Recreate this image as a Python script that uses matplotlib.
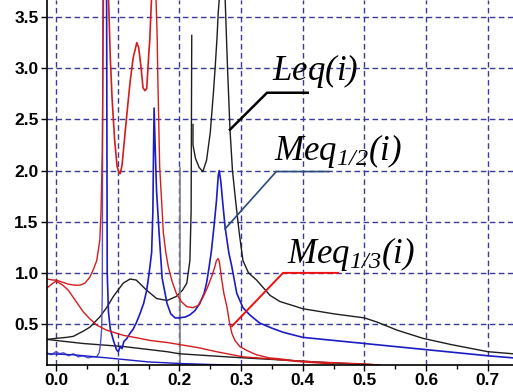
import matplotlib
matplotlib.use("Agg")
import matplotlib.pyplot as plt
from matplotlib.ticker import MultipleLocator

plt.rcParams['mathtext.fontset'] = 'custom'
plt.rcParams['mathtext.it'] = 'Liberation Serif:italic'
plt.rcParams['mathtext.rm'] = 'Liberation Serif:italic'

# ---- Leq(i), black ----
leq_a_x = [-0.015, 0.0, 0.017, 0.028, 0.044, 0.055, 0.071, 0.082, 0.093, 0.109, 0.12, 0.13,
           0.147, 0.163, 0.18, 0.195, 0.205, 0.212, 0.217, 0.219, 0.220]
leq_a_y = [0.35, 0.36, 0.37, 0.38, 0.43, 0.47, 0.57, 0.66, 0.77, 0.90, 0.94, 0.93,
           0.83, 0.75, 0.73, 0.77, 0.83, 0.90, 1.12, 1.6, 3.32]
leq_b_x = [0.222, 0.222, 0.226, 0.232, 0.238, 0.244, 0.250, 0.255, 0.258, 0.261, 0.263, 0.265]
leq_b_y = [2.45, 2.25, 2.12, 2.03, 1.99, 2.1, 2.37, 2.75, 3.01, 3.3, 3.55, 3.7]
leq_c_x = [0.274, 0.278, 0.282, 0.286, 0.291, 0.297, 0.303, 0.312, 0.325, 0.347, 0.363, 0.40,
           0.45, 0.50, 0.52, 0.553, 0.595, 0.64, 0.70, 0.74]
leq_c_y = [3.7, 3.0, 2.4, 2.0, 1.71, 1.39, 1.12, 1.0, 0.93, 0.78, 0.72, 0.65,
           0.60, 0.56, 0.52, 0.44, 0.36, 0.30, 0.23, 0.21]
leq_jump_x = [0.201, 0.201]
leq_jump_y = [0.1, 2.02]
leq_s_x = [-0.015, 0.044, 0.11, 0.152, 0.18, 0.2, 0.25, 0.303, 0.363, 0.45, 0.525]
leq_s_y = [0.35, 0.31, 0.28, 0.25, 0.23, 0.21, 0.19, 0.17, 0.15, 0.12, 0.10]

# ---- Meq1/2(i), blue ----
meq2_a_x = [-0.015, -0.008, 0.0, 0.006, 0.012, 0.02, 0.028, 0.036, 0.044, 0.052, 0.06,
            0.066, 0.07, 0.072, 0.074, 0.075, 0.076]
meq2_a_y = [0.22, 0.20, 0.23, 0.21, 0.22, 0.19, 0.21, 0.18, 0.19, 0.17, 0.18,
            0.18, 0.22, 0.30, 0.45, 0.8, 3.7]
meq2_b_x = [0.082, 0.083, 0.085, 0.088, 0.093, 0.098, 0.101, 0.104, 0.107, 0.11, 0.115,
            0.12, 0.125, 0.13, 0.136, 0.142, 0.147, 0.151, 0.155, 0.157, 0.158, 0.159,
            0.161, 0.163, 0.167, 0.172, 0.18, 0.186, 0.193, 0.2, 0.21, 0.217, 0.225,
            0.233, 0.24, 0.244, 0.248, 0.252, 0.256, 0.26, 0.263, 0.2645, 0.267, 0.27,
            0.274, 0.28, 0.285, 0.293, 0.303, 0.314, 0.33, 0.35, 0.368, 0.40, 0.45,
            0.50, 0.55, 0.60, 0.65, 0.70, 0.74]
meq2_b_y = [3.7, 1.0, 0.62, 0.45, 0.34, 0.25, 0.23, 0.28, 0.26, 0.33, 0.36,
            0.41, 0.45, 0.51, 0.60, 0.70, 0.83, 1.0, 1.2, 1.6, 2.17, 2.61,
            2.17, 1.8, 1.4, 0.95, 0.7, 0.6, 0.56, 0.56, 0.57, 0.59, 0.63,
            0.70, 0.8, 0.9, 1.05, 1.22, 1.45, 1.7, 1.95, 2.0, 1.9, 1.7,
            1.45, 1.2, 1.06, 0.80, 0.66, 0.59, 0.51, 0.46, 0.42, 0.37, 0.34,
            0.31, 0.28, 0.25, 0.22, 0.19, 0.17]
meq2_s_x = [-0.015, 0.028, 0.082, 0.15, 0.2, 0.25, 0.29]
meq2_s_y = [0.21, 0.2, 0.17, 0.13, 0.115, 0.105, 0.10]

# ---- Meq1/3(i), red ----
meq3_a_x = [-0.015, -0.005, 0.0, 0.01, 0.02, 0.03, 0.039, 0.047, 0.055, 0.061, 0.066,
            0.071, 0.073, 0.075, 0.077]
meq3_a_y = [0.94, 0.93, 0.93, 0.91, 0.89, 0.88, 0.88, 0.90, 0.96, 1.04, 1.12,
            1.32, 1.6, 2.2, 3.7]
meq3_b_x = [0.085, 0.088, 0.091, 0.095, 0.099, 0.102, 0.104, 0.107, 0.112, 0.116, 0.12,
            0.125, 0.131, 0.134, 0.138, 0.141, 0.144, 0.147, 0.150, 0.152, 0.154, 0.155]
meq3_b_y = [3.7, 3.1, 2.69, 2.3, 2.04, 1.98, 1.97, 2.05, 2.37, 2.62, 2.86,
            3.1, 3.25, 3.2, 3.0, 2.81, 2.78, 2.8, 3.1, 3.28, 3.57, 3.7]
meq3_c_x = [0.162, 0.164, 0.165, 0.168, 0.171, 0.174, 0.178, 0.182, 0.188, 0.195, 0.203,
            0.212, 0.222, 0.23, 0.238, 0.245, 0.252, 0.257, 0.26, 0.263, 0.265, 0.268,
            0.272, 0.277, 0.281, 0.285, 0.29, 0.298, 0.31, 0.325, 0.345, 0.363, 0.39,
            0.42, 0.46, 0.50, 0.525]
meq3_c_y = [3.7, 3.3, 2.92, 2.04, 1.72, 1.39, 1.2, 1.06, 0.92, 0.8, 0.72,
            0.67, 0.66, 0.68, 0.76, 0.85, 0.96, 1.05, 1.12, 1.14, 1.1, 0.96,
            0.80, 0.67, 0.52, 0.41, 0.34, 0.28, 0.24, 0.2, 0.17, 0.16, 0.14,
            0.13, 0.12, 0.11, 0.10]
meq3_s_x = [-0.015, -0.005, 0.0, 0.011, 0.02, 0.028, 0.036, 0.044, 0.055, 0.066, 0.082,
            0.109, 0.136, 0.152, 0.18, 0.2, 0.23, 0.26, 0.303, 0.347, 0.40, 0.45]
meq3_s_y = [0.85, 0.9, 0.92, 0.88, 0.83, 0.76, 0.69, 0.62, 0.55, 0.49, 0.44,
            0.39, 0.36, 0.34, 0.32, 0.30, 0.27, 0.23, 0.18, 0.16, 0.13, 0.11]

x_ticks = [0.0, 0.1, 0.2, 0.3, 0.4, 0.5, 0.6, 0.7]
y_ticks = [0.5, 1.0, 1.5, 2.0, 2.5, 3.0, 3.5]

black = '#1e1e1e'
blue = '#1c1cc4'
red = '#d41c1c'

fig = plt.figure(figsize=(5.13, 3.92), dpi=100)
ax = fig.add_axes([47 / 513, 27 / 392, 466 / 513, 365 / 392])

# Leq
ax.plot(leq_a_x, leq_a_y, color=black, lw=1.0)
ax.plot(leq_b_x, leq_b_y, color=black, lw=1.0)
ax.plot(leq_c_x, leq_c_y, color=black, lw=1.0)
ax.plot(leq_jump_x, leq_jump_y, color='#808080', lw=1.2)
ax.plot(leq_s_x, leq_s_y, color=black, lw=1.0)

# Meq 1/2
ax.plot(meq2_a_x, meq2_a_y, color='#5050d0', lw=1.0)
ax.plot(meq2_b_x, meq2_b_y, color=blue, lw=1.2)
ax.plot(meq2_s_x, meq2_s_y, color=blue, lw=1.0)

# Meq 1/3
ax.plot(meq3_a_x, meq3_a_y, color=red, lw=1.0)
ax.plot(meq3_b_x, meq3_b_y, color=red, lw=1.2)
ax.plot(meq3_c_x, meq3_c_y, color=red, lw=1.0)
ax.plot(meq3_s_x, meq3_s_y, color=red, lw=1.0)

ax.set_xlim(-0.0146, 0.7407)
ax.set_ylim(0.1, 3.666)
ax.set_xticks(x_ticks)
ax.set_yticks(y_ticks)
ax.set_xticklabels([f'{v:.1f}' for v in x_ticks])
ax.set_yticklabels([f'{v:.1f}' for v in y_ticks])
ax.xaxis.set_minor_locator(MultipleLocator(0.05))
ax.grid(True, which='major', color='#3a3a9c', linestyle=(0, (4, 2.5)), lw=1.0)
ax.set_axisbelow(True)

for s in ['top', 'right']:
    ax.spines[s].set_visible(False)
for s in ['left', 'bottom']:
    ax.spines[s].set_linewidth(1.2)
ax.tick_params(which='major', direction='out', length=4, width=1.0, pad=2)
ax.tick_params(which='minor', direction='out', length=3, width=1.0)
for lab in ax.get_xticklabels() + ax.get_yticklabels():
    lab.set_fontfamily('Liberation Sans')
    lab.set_fontweight('bold')
    lab.set_fontsize(12.5)

# labels with leader lines
ax.plot([0.282, 0.342, 0.408], [2.40, 2.76, 2.76], color='black', lw=1.8)
ax.text(0.350, 2.886, '$Leq(i)$', fontsize=25, va='baseline', ha='left')
ax.plot([0.274, 0.357, 0.442], [1.43, 1.99, 1.99], color='#2a4a78', lw=1.2)
ax.text(0.353, 2.106, '$Meq_{1/2}(i)$', fontsize=25, va='baseline', ha='left')
ax.plot([0.285, 0.368, 0.457], [0.478, 1.0, 1.0], color='#f01010', lw=1.4)
ax.text(0.374, 1.095, '$Meq_{1/3}(i)$', fontsize=25, va='baseline', ha='left')

fig.savefig('out.png', dpi=100)
